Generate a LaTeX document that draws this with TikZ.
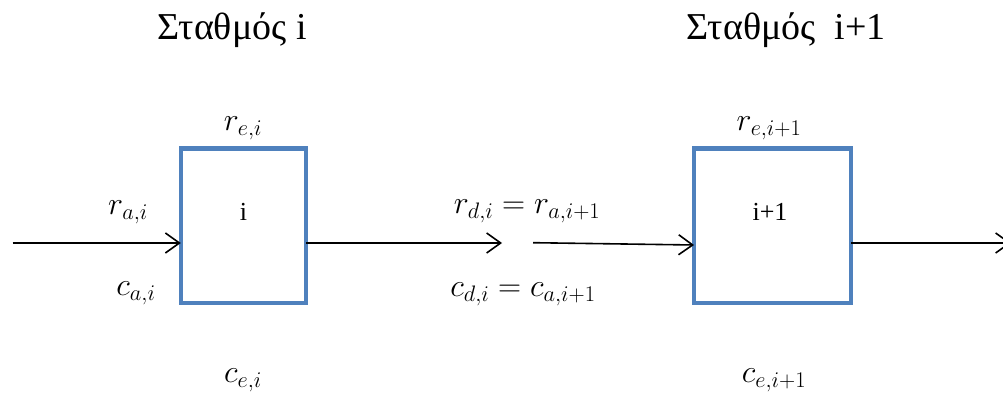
\RequirePackage{fix-cm}
\documentclass[tikz,border=0pt]{standalone}
\usepackage{fontspec}
\setmainfont{Liberation Serif}
\usetikzlibrary{arrows.meta}
\definecolor{stationblue}{RGB}{79,129,189}
\tikzset{
  station/.style={draw=stationblue, line width=4.5pt, minimum height=154.7pt, inner sep=0pt, outer sep=0pt},
  flow/.style={line width=1.6pt, -{Straight Barb[length=14pt, width=20pt, line width=1.6pt]}},
  title/.style={font=\fontsize{38}{44}\selectfont},
  sym/.style={font=\fontsize{32}{38}\selectfont, inner sep=0pt},
  idx/.style={font=\fontsize{26}{30}\selectfont, inner sep=0pt}
}
\begin{document}
\begin{tikzpicture}[x=1pt, y=-1pt]
  \useasboundingbox (0,0) rectangle (1003,395);

  % station titles
  \node[title] (t1) at (232,30) {Σταθμός i};
  \node[title] (t2) at (786,30) {Σταθμός\ \ i+1};

  % station boxes
  \node[station, minimum width=125.3pt] (s1) at (243.4,225.7) {};
  \node[station, minimum width=157pt] (s2) at (772.5,225.7) {};
  \node[idx] (n1) at (243.5,212) {i};
  \node[idx] (n2) at (770,212) {i+1};

  % flow end points
  \coordinate (in1) at (12.5,243);
  \coordinate (mid1) at (502,243);
  \coordinate (mid2) at (533,242.7);
  \coordinate (out2) at (1011,243);

  % flows
  \draw[flow] (in1) -- ([yshift=-17.3pt]s1.west);
  \draw[flow] ([yshift=-17.3pt]s1.east) -- (mid1);
  \draw[flow] (mid2) -- ([yshift=-19.3pt]s2.west);
  \draw[flow] ([yshift=-17.3pt]s2.east) -- (out2);

  % rates and concentrations
  \node[sym] (re1) at (243,128) {$r_{e,i}$};
  \node[sym] (ra1) at (128,212) {$r_{a,i}$};
  \node[sym] (ca1) at (136,293) {$c_{a,i}$};
  \node[sym] (ce1) at (243,380) {$c_{e,i}$};
  \node[sym] (rd1) at (527,211) {$r_{d,i} = r_{a,i+1}$};
  \node[sym] (cd1) at (523,294) {$c_{d,i} = c_{a,i+1}$};
  \node[sym] (re2) at (769,128) {$r_{e,i+1}$};
  \node[sym] (ce2) at (774,380) {$c_{e,i+1}$};
\end{tikzpicture}
\end{document}
